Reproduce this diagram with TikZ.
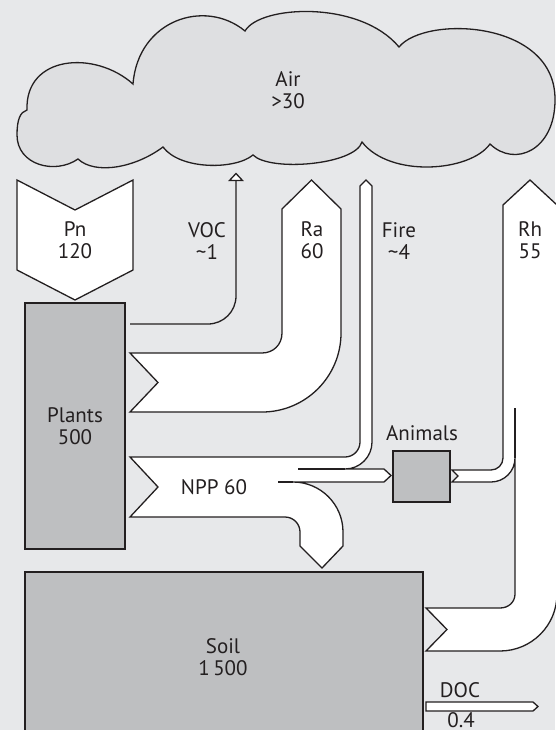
\documentclass[tikz,border=0pt]{standalone}
\usepackage{fontspec}
\setmainfont{PT Sans}
\definecolor{bg}{RGB}{231,232,234}
\definecolor{cloudfill}{RGB}{222,223,225}
\definecolor{boxfill}{RGB}{190,191,193}
\definecolor{ink}{RGB}{35,31,32}
\begin{document}
\begin{tikzpicture}[x=1pt,y=-1pt,line join=miter,
  ln/.style={draw=ink,line width=1.3pt},
  flow/.style={ln,fill=white},
  pool/.style={ln,fill=boxfill},
  lbl/.style={font=\fontsize{21}{22}\selectfont,text=ink,inner sep=0pt,align=center}]
\useasboundingbox (0,0) rectangle (555,730);
\fill[bg] (0,0) rectangle (555,730);

% Air cloud
\draw[ln,fill=cloudfill] (27,110)
  .. controls (25,55) and (95,50) .. (133,84)
  .. controls (138,20) and (205,-2) .. (245,31)
  .. controls (260,5) and (360,0) .. (399,47)
  .. controls (425,15) and (556,20) .. (555,100)
  .. controls (555,150) and (515,168) .. (490,144)
  .. controls (470,172) and (390,178) .. (362,142)
  .. controls (355,165) and (270,172) .. (253,155)
  .. controls (235,170) and (180,170) .. (163,147)
  .. controls (135,168) and (95,175) .. (78,159)
  .. controls (55,175) and (17,165) .. (17,135)
  .. controls (17,120) and (20,112) .. cycle;

% Pn
\draw[flow] (17,180) -- (75,210) -- (133,180) -- (133,270) -- (75,300) -- (17,270) -- cycle;

% pools
\draw[pool] (25,303) rectangle (125,549);
\draw[pool] (25,572) rectangle (423,730.5);
\draw[pool] (393,451) rectangle (450,502);

% VOC
\draw[ln] (130,324) -- (208,324) .. controls (223.46,324) and (236,311.54) .. (236,296) -- (236,180);
\draw[flow] (229.5,180.5) -- (236,173.5) -- (242.5,180.5) -- cycle;

% Ra
\draw[flow] (130,353) -- (262,353) .. controls (273.05,353) and (282,344.95) .. (282,333)
  -- (282,209) -- (311.5,180) -- (341,209) -- (341,333)
  .. controls (341,376.63) and (305.63,412) .. (262,412) -- (130,412) -- (158,382.5) -- cycle;

% NPP with Fire, Animals and Soil branches
\draw[flow] (130,457) -- (345,457) .. controls (353.28,457) and (360,450.28) .. (360,442)
  -- (360,186) -- (366,180) -- (372,186) -- (372,442)
  .. controls (372,456.91) and (359.91,469) .. (345,469)
  -- (384,469) -- (391,475.5) -- (384,482) -- (293,482)
  .. controls (320.6,482) and (343,504.4) .. (343,532)
  -- (343,546) -- (322,568) -- (300,546) -- (300,532)
  .. controls (300,523.72) and (293.28,517) .. (285,517)
  -- (130,517) -- (158,487) -- cycle;
\draw[ln] (298,469) -- (345,469);
\draw[ln] (278,482) -- (293,482);

% Rh with animal respiration
\draw[flow] (452,470) -- (491,470) .. controls (497.63,470) and (503,464.63) .. (503,458)
  -- (503,205) -- (530,180) -- (557,205) -- (557,594)
  .. controls (557,625.48) and (531.48,651) .. (500,651)
  -- (426,651) -- (447,629.5) -- (426,608) -- (500,608)
  .. controls (508.28,608) and (515,602.28) .. (515,594)
  -- (515,458) .. controls (515,471.26) and (504.26,482) .. (491,482)
  -- (452,482) -- (458,476) -- cycle;
\draw[ln] (515,408) -- (515,458);

% DOC
\draw[flow] (426,702) -- (533,702) -- (538,706.5) -- (533,711) -- (426,711) -- cycle;

% labels
\node[lbl] (air) at (288,90.6) {Air\\>30};
\node[lbl] (pn) at (75,240.5) {Pn\\120};
\node[lbl] (voc) at (207,240.6) {VOC\\\textasciitilde1};
\node[lbl] (ra) at (312,240.6) {Ra\\60};
\node[lbl] (fire) at (399,240.6) {Fire\\\textasciitilde4};
\node[lbl] (rh) at (530,240.6) {Rh\\55};
\node[lbl] (plants) at (75,426.6) {Plants\\500};
\node[lbl] (soil) at (223,657.6) {Soil\\1\,500};
\node[lbl,anchor=base] (npp) at (214,494) {NPP 60};
\node[lbl,anchor=base] (animals) at (422,440) {Animals};
\node[lbl,anchor=base] (doc) at (460,697) {DOC};
\node[lbl,anchor=base] (docval) at (461,727) {0.4};
\end{tikzpicture}
\end{document}
